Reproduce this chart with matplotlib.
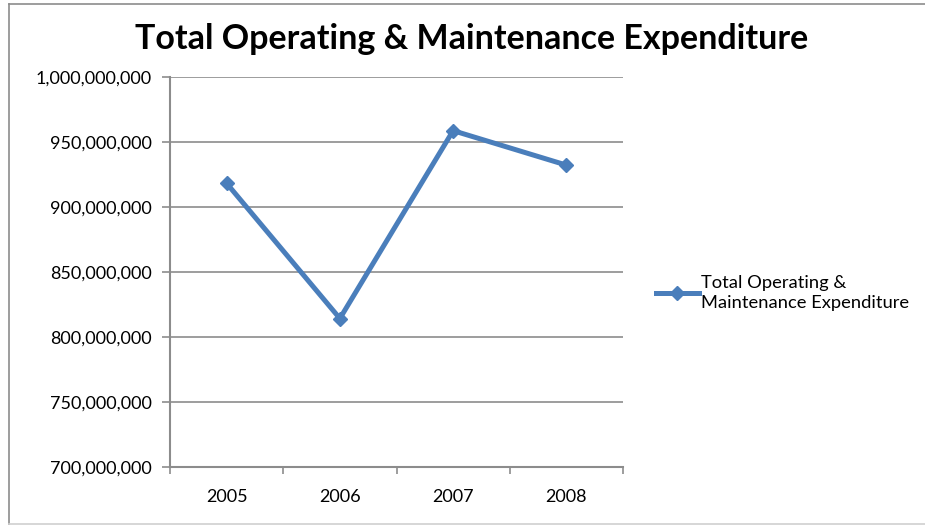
import matplotlib
matplotlib.use("Agg")
import matplotlib.pyplot as plt
from matplotlib.lines import Line2D
from matplotlib.ticker import FuncFormatter, FixedLocator

years = ["2005", "2006", "2007", "2008"]
expenditure = [918_000_000, 814_000_000, 958_500_000, 932_000_000]
series_name = "Total Operating &\nMaintenance Expenditure"
title = "Total Operating & Maintenance Expenditure"

plt.rcParams["font.family"] = ["Lato", "DejaVu Sans"]

W, H = 925, 525
fig = plt.figure(figsize=(W / 100, H / 100), dpi=100)
fig.patch.set_facecolor("white")

# outer chart frame
fig.add_artist(Line2D([9 / W, 9 / W], [1 - 4 / H, 1 - 524 / H], transform=fig.transFigure,
                      color="#8c8c8c", lw=1.2))
fig.add_artist(Line2D([9 / W, 1.0], [1 - 4 / H, 1 - 4 / H], transform=fig.transFigure,
                      color="#8c8c8c", lw=1.2))
fig.add_artist(Line2D([9 / W, 1.0], [1 - 524 / H, 1 - 524 / H], transform=fig.transFigure,
                      color="#d0d0d0", lw=1.2))

left, right = 170 / W, 623 / W
bottom, top = 1 - 466.7 / H, 1 - 76.7 / H
ax = fig.add_axes([left, bottom, right - left, top - bottom])

x = list(range(len(years)))
color = "#4A7EBB"
line, = ax.plot(x, expenditure, color=color, lw=3.6, marker="D", markersize=7.5,
                markerfacecolor=color, markeredgecolor=color, solid_joinstyle="miter")

ax.set_xlim(-0.5, len(years) - 0.5)
ax.set_ylim(700_000_000, 1_000_000_000)
ax.set_yticks([700_000_000 + 50_000_000 * i for i in range(7)])
ax.yaxis.set_major_formatter(FuncFormatter(lambda v, p: f"{int(v):,}"))

ax.set_xticks(x)
ax.set_xticklabels(years)
ax.xaxis.set_minor_locator(FixedLocator([i - 0.5 for i in range(len(years) + 1)]))
ax.tick_params(axis="x", which="major", length=0, pad=16, labelsize=13, colors="black")
ax.tick_params(axis="x", which="minor", length=5, width=1.2, color="#8c8c8c", direction="out")
ax.tick_params(axis="y", which="major", length=6, width=1.2, color="#8c8c8c",
               labelsize=13, pad=7, labelcolor="black")

ax.grid(axis="y", color="#8c8c8c", lw=1.2)
ax.set_axisbelow(True)
for s in ["top", "right"]:
    ax.spines[s].set_visible(False)
for s in ["left", "bottom"]:
    ax.spines[s].set_color("#8c8c8c")
    ax.spines[s].set_linewidth(1.5)

fig.text(472 / W, 1 - 39 / H, title, ha="center", va="center",
         fontsize=24.5, fontweight="bold", color="black")

leg = fig.legend([line], [series_name], loc="center left",
                 bbox_to_anchor=(649 / W, 1 - 293 / H), frameon=False,
                 fontsize=13.2, handlelength=2.3, handletextpad=0.15,
                 borderaxespad=0)
for t in leg.get_texts():
    t.set_linespacing(1.35)

fig.savefig("out.png", dpi=100)
